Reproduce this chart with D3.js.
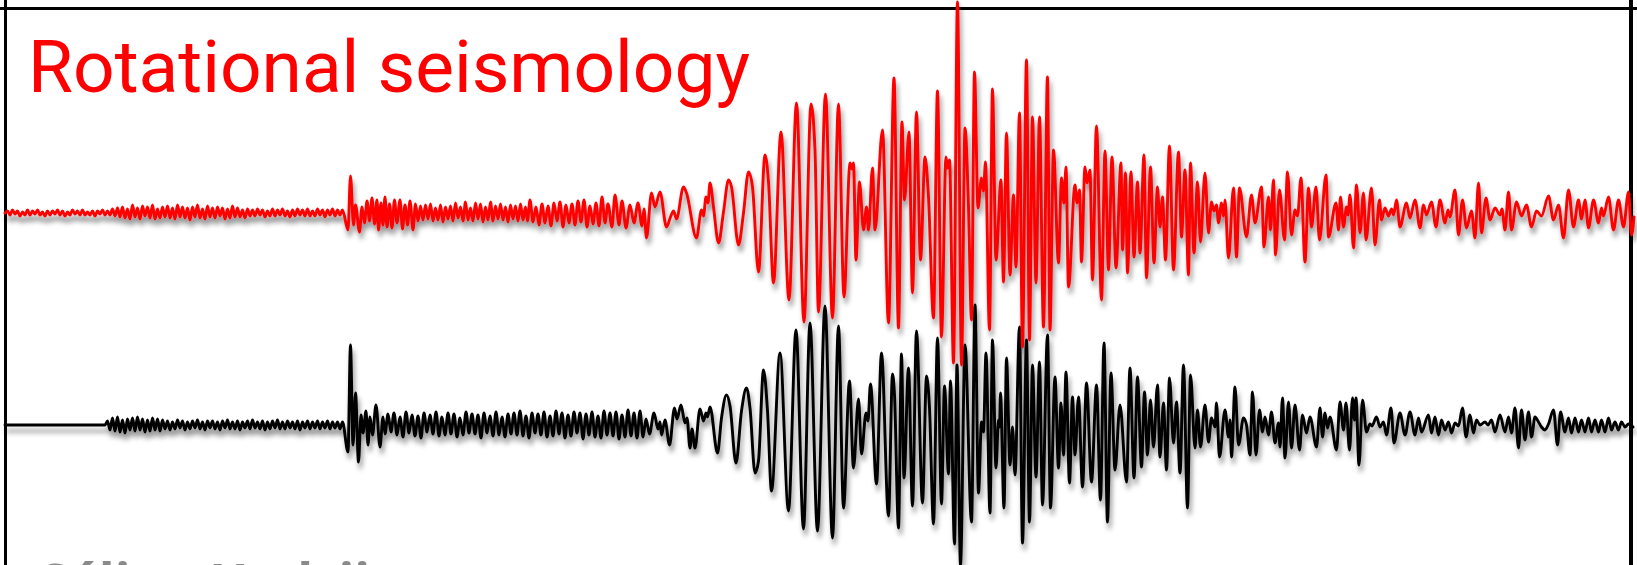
<!DOCTYPE html>
<html><head><meta charset="utf-8">
<script src="https://cdn.jsdelivr.net/npm/d3@7"></script>
<style>html,body{margin:0;padding:0;background:#fff;overflow:hidden}</style>
</head><body>
<svg id="chart" width="1637" height="565"></svg>
<script>
const titleText = "Rotational seismology";
const footerText = "Céline Hadziioannou";

// Rotation-rate record (red), picked extrema as [time s, amplitude]
const rotationTrace = [
[0,0],[5,2],[10,-2],[15,3],[20,-1],[25,2],[30,-3],[35,1],[40,-2],[45,3],[50,-2],[55,2],[60,-1],[65,3],[70,-2],[75,1],[80,-3],[85,2],[90,-2],[95,2],[100,-1],[105,3],[110,-2],[115,2],[120,-3],[125,1],[130,-2],[135,3],[140,-1],[145,2],[150,-2],[155,3],[160,-2],[165,1],[170,-2],[175,2],[180,-3],[185,2],[190,-1],[195,3],[200,-2],[205,2],[210,-2],
[215,4],[220,-3],[225,5],[230,-4],[235,6],[240,-5],[245,4],[250,-6],[255,8],[260,-4],[265,5],[270,-6],[275,7],[280,-3],[285,6],[290,-5],[295,8],[300,-6],[305,4],[310,-5],[315,6],[320,-4],[325,7],[330,-5],[335,5],[340,-6],[345,8],[350,-4],[355,6],[360,-5],[365,5],[370,-7],[375,6],[380,-4],[385,8],[390,-5],[395,4],[400,-6],[405,7],[410,-4],[415,5],[420,-5],[425,6],[430,-3],[435,5],[440,-6],[445,4],[450,-5],[455,7],[460,-4],[465,5],[470,-4],[475,3],[480,-5],[485,4],[490,-3],
[495,3],[500,-3],[505,4],[510,-2],[515,3],[520,-4],[525,2],[530,-3],[535,4],[540,-3],[545,3],[550,-2],[555,4],[560,-3],[565,2],[570,-4],[575,3],[580,-3],[585,4],[590,-2],[595,3],[600,-3],[605,4],[610,-3],[615,2],[620,-3],[625,4],[630,-2],[635,3],[640,-4],[645,3],[650,-2],[655,4],[660,-3],[665,3],[670,-2],[675,3],
[686,-17],[691,37],[697,-12],[701,8],[709,-19],
[714,6],[719,-10],[724,12],[729,-8],[734,15],[739,-11],[744,13],[747,-17],[752,10],[756,-12],[760,16],[764,-14],[769,9],[774,-15],[779,13],[784,-10],[790,13],[795,-16],[800,8],[805,-12],[810,12],[816,-17],[821,9],
[826,-8],[831,7],[836,-7],[841,8],[846,-6],[851,9],[856,-8],[861,5],[866,-7],[871,8],[876,-9],[881,6],[886,-6],[891,7],[896,-8],[901,10],[906,-5],[911,6],[916,-8],[921,11],[926,-7],[931,5],[936,-8],[941,10],[946,-6],[951,9],[956,-9],[961,6],[966,-7],[971,11],[976,-8],[981,7],[986,-6],[991,9],[996,-7],[1001,6],[1006,-9],[1011,8],[1016,-6],[1021,7],[1026,-8],[1031,9],[1036,-7],[1041,6],[1045,-8],
[1050,13],[1056,-9],[1062,6],[1068,-12],[1074,9],[1080,-10],[1086,7],[1092,-13],[1098,10],[1104,-8],[1110,11],[1116,-14],[1122,8],[1128,-10],[1134,9],[1140,-12],[1146,12],[1152,-9],[1158,13],[1164,-14],[1170,7],[1176,-11],[1182,10],[1188,-13],[1194,16],[1200,-10],[1206,9],[1214,-14],[1220,18],[1228,-12],[1234,12],[1242,-15],[1250,8],[1258,-10],[1266,10],[1274,-13],[1278,4],
[1283,-25],[1293,20],[1300,6],[1310,21],[1323,-14],[1331,-4],[1337,2],[1343,-6],[1357,26],[1363,20],[1383,-25],
[1393,3],[1397,-3],[1402,16],[1406,10],[1410,30],[1417,6],[1427,-30],[1437,1],[1447,33],[1453,26],[1467,-32],[1477,0],[1487,41],[1495,26],[1507,-59],[1520,58],[1527,31],[1537,-70],[1552,81],[1568,-87],[1583,110],[1598,-109],[1612,109],[1620,63],[1627,-99],[1641,119],[1655,-105],[1667,109],[1678,-84],[1690,50],[1694,44],[1697,50],[1702,-47],[1709,31],[1717,-17],[1723,6],[1727,-17],[1735,45],[1740,-17],[1755,83],[1767,-110],[1778,135],[1787,-115],[1794,91],[1799,13],[1808,81],[1815,-80],[1823,101],[1831,-47],[1840,56],[1847,16],[1857,-105],[1865,122],[1873,-124],[1882,56],[1885,45],[1889,53],[1897,-150],[1905,211],[1913,-152],[1920,85],[1927,6],[1933,-107],[1939,141],
[1946,5],[1953,35],[1957,22],[1961,51],[1969,-117],[1975,124],[1982,-47],[1992,33],[1997,-69],[2003,80],[2010,-62],[2017,18],[2022,-54],[2029,100],[2035,-134],[2043,153],[2049,-127],[2055,96],[2062,-70],[2069,96],[2077,-114],[2085,136],[2090,-117],[2097,63],[2107,-50],[2113,35],[2118,10],[2122,46],[2127,-74],[2140,28],[2144,10],[2149,23],[2153,-49],[2160,46],[2164,30],[2170,43],[2175,-67],[2183,87],[2193,-87],[2200,62],[2207,-57],[2214,56],[2222,-55],[2232,50],[2235,-37],[2241,40],[2245,-60],[2252,41],[2258,-44],[2265,31],[2270,-40],[2278,58],[2283,-65],[2291,46],[2298,-50],[2305,26],[2310,-14],[2315,16],[2321,-47],[2329,67],[2337,-57],[2347,61],[2353,-24],[2360,43],[2367,-62],[2371,50],[2378,-40],[2385,31],[2391,-29],[2400,40],[2407,-20],[2413,11],[2418,2],[2423,8],[2427,-10],[2433,10],[2437,-3],[2440,13],[2447,-45],[2457,25],[2463,-44],[2469,25],
[2483,-24],[2493,18],[2500,-10],[2513,26],[2518,-34],[2527,16],[2531,-17],[2537,33],[2541,-42],[2549,23],[2559,-27],[2565,41],[2573,-22],[2580,3],[2585,-3],[2592,35],[2600,-49],[2607,25],[2613,-14],[2622,26],[2629,-27],[2642,38],[2647,-24],[2662,10],[2667,-17],[2671,16],[2677,-14],[2683,6],[2686,-2],[2690,18],[2697,-35],[2703,28],[2710,-20],[2717,20],[2722,-27],[2733,25],[2740,-32],[2749,13],[2753,-7],[2760,5],[2767,-3],[2773,4],[2777,-2],[2783,13],[2790,-14],[2803,10],[2810,-5],[2820,13],[2830,-15],[2837,8],[2843,-2],[2853,11],[2862,-14],[2870,13],[2880,-10],[2886,3],[2890,-4],[2900,23],[2907,-22],[2915,13],[2923,-15],[2933,2],[2940,-25],[2947,30],[2953,-20],[2962,15],[2970,-7],[2980,5],[2990,-2],[2994,4],[3000,-17],[3007,21],[3013,-17],[3023,11],[3033,-3],[3043,8],[3053,-14],[3063,2],[3073,-3],[3087,17],[3097,-7],[3107,8],[3117,-25],[3127,23],[3137,-14],[3147,13],[3153,-6],[3160,13],[3167,-15],[3177,13],[3187,-10],[3193,5],[3197,-3],[3207,16],[3217,-17],[3227,13],[3237,-14],[3247,21],[3253,-22],[3258,-4]
];

// Translational velocity record (black), picked extrema as [time s, amplitude]
const velocityTrace = [
[0,0],[200,0],
[205,4],[210,-5],[215,7],[220,-6],[225,8],[230,-7],[235,5],[240,-8],[245,6],[250,-5],[255,7],[260,-6],[265,8],[270,-5],[275,6],[280,-7],[285,5],[290,-6],[295,7],[300,-5],[305,6],[310,-6],[315,5],
[320,-4],[325,4],[330,-5],[335,3],[340,-4],[345,5],[350,-3],[355,4],[360,-5],[365,3],[370,-4],[375,4],[380,-3],[385,5],[390,-4],[395,3],[400,-5],[405,4],[410,-3],[415,4],[420,-4],[425,3],[430,-5],[435,4],[440,-3],[445,5],[450,-4],[455,3],[460,-4],[465,4],[470,-5],[475,3],[480,-3],[485,4],[490,-4],[495,5],[500,-3],[505,3],[510,-4],[515,4],[520,-5],[525,3],[530,-4],[535,4],[540,-3],[545,5],[550,-4],[555,3],[560,-4],[565,4],[570,-3],[575,3],[580,-4],[585,4],[590,-5],[595,3],[600,-3],[605,4],[610,-4],[615,3],[620,-3],[625,4],[630,-4],[635,3],[640,-3],[645,4],[650,-4],[655,3],[660,-3],[665,3],[670,-4],[675,3],
[686,-27],[691,80],[696,-20],[701,32],[707,-37],[712,10],[716,-8],[722,14],[726,-20],[730,8],[735,-10],[742,20],[750,-22],[756,8],
[760,-9],[766,11],[772,-7],[778,12],[784,-10],[790,8],[796,-12],[802,13],[808,-8],[814,10],[820,-11],[826,9],[832,-13],[838,12],[844,-7],[850,10],[856,-9],[862,13],[868,-11],[874,8],[880,-10],[886,12],[892,-9],[898,11],[904,-12],[910,7],[916,-10],[922,13],[928,-8],[934,11],[940,-9],[946,10],[952,-13],[958,12],[964,-8],[970,9],[976,-11],[982,13],[988,-10],[994,8],[1000,-12],[1006,11],[1012,-9],[1018,12],[1024,-10],[1030,14],[1036,-11],[1042,9],[1048,-13],[1054,12],[1060,-8],[1066,11],[1072,-10],[1078,13],[1084,-12],[1090,9],[1096,-11],[1102,14],[1108,-9],[1114,12],[1120,-13],[1126,10],[1132,-11],[1138,13],[1144,-8],[1150,12],[1156,-14],[1162,11],[1168,-10],[1174,13],[1180,-12],[1186,9],[1192,-13],[1198,14],[1204,-10],[1210,12],[1216,-11],[1222,13],[1228,-14],[1234,10],[1240,-12],[1246,15],[1252,-11],[1258,12],[1264,-13],[1270,14],[1276,-12],
[1282,6],[1289,-9],[1298,12],[1306,-4],[1310,3],[1313,-10],[1320,5],[1329,-20],[1339,17],[1344,6],
[1352,20],[1360,2],[1364,7],[1370,-23],[1374,-4],[1380,-23],[1390,16],[1397,4],[1402,12],[1405,8],[1410,18],[1425,-28],[1433,7],[1443,30],[1450,19],[1462,-38],[1473,14],[1483,37],[1490,17],[1500,-48],[1507,-36],[1517,55],[1525,14],[1533,-66],[1550,72],[1567,-86],[1582,95],[1597,-104],[1610,102],[1625,-106],[1640,119],[1655,-113],[1667,99],[1677,-83],[1689,44],[1697,-43],[1707,26],[1713,-29],[1722,12],[1726,4],[1731,41],[1743,-59],[1753,72],[1767,-91],[1775,51],[1779,30],[1787,-103],[1793,71],[1798,-53],[1807,57],[1815,-81],[1823,94],[1835,-78],[1843,49],[1849,17],[1857,-99],[1865,87],[1873,-79],[1879,39],[1887,-49],[1891,44],[1899,-119],[1904,60],[1911,-140],[1920,80],[1933,-97],[1940,120],[1947,-68],[1953,3],[1957,-7],[1962,72],[1970,-88],[1975,85],[1982,-43],[1987,5],[1989,-2],[1991,32],[1998,-83],[2003,67],[2010,-40],[2015,-2],[2020,-50],[2029,98],[2035,-118],[2043,85],[2049,-97],[2055,60],[2062,-52],[2069,63],[2075,-80],[2085,90],[2091,-83],[2100,48],[2107,-43],[2112,22],[2117,-30],[2122,53],[2129,-58],[2135,28],[2140,-30],[2147,28],[2155,-62],[2163,42],[2173,-57],[2183,40],[2191,-75],[2198,82],[2205,-97],[2212,52],[2220,-45],[2230,20],[2243,-57],[2250,57],[2258,-53],[2265,48],[2273,-42],[2279,33],[2285,-30],[2291,25],[2297,-22],[2305,40],[2310,-32],[2317,22],[2323,-45],[2329,47],[2337,-18],[2343,23],[2350,-48],[2357,60],[2365,-83],[2371,50],[2380,-23],[2385,15],[2391,-22],[2400,20],[2407,-17],[2413,7],[2420,-2],[2423,22],[2429,-32],[2440,15],[2447,-12],[2450,5],[2453,-32],[2460,38],[2467,-20],[2477,7],[2483,0],
[2490,-30],[2495,33],[2502,-30],[2509,15],[2515,-7],[2520,8],[2527,-10],[2533,13],[2540,-18],[2547,2],[2550,-22],[2555,27],[2560,-33],[2567,23],[2573,-23],[2580,20],[2589,-25],[2595,10],[2603,-8],[2610,8],[2623,-22],[2630,17],[2635,-12],[2640,12],[2645,-3],[2650,8],[2663,-25],[2670,23],[2677,-5],[2682,22],[2689,-25],[2695,27],[2699,5],[2702,27],[2708,-40],[2715,25],[2723,-7],[2730,1],[2734,-1],[2743,8],[2750,-2],[2757,3],[2763,-10],[2772,17],[2778,-18],[2790,12],[2800,-10],[2810,13],[2820,-10],[2827,7],[2833,-7],[2847,10],[2853,-8],[2860,8],[2867,-10],[2873,5],[2880,-5],[2887,3],[2893,-8],[2900,2],[2907,-1],[2915,17],[2922,-12],[2930,10],[2937,-8],[2943,5],[2950,0],[2960,3],[2966,0],[2973,5],[2980,-7],[2990,10],[3000,-7],[3007,8],[3013,-8],[3020,17],[3027,-23],[3033,15],[3040,-15],[3047,13],[3053,-12],[3060,8],[3067,3],[3073,-2],[3080,-5],[3087,1],[3097,15],[3105,-20],[3111,13],[3120,-7],[3127,7],[3133,-8],[3140,7],[3147,-7],[3153,5],[3160,-7],[3167,7],[3173,-7],[3180,5],[3187,-7],[3193,5],[3200,-7],[3207,7],[3213,-5],[3220,3],[3227,-5],[3233,3],[3240,-2],[3247,1],[3256,-2]
];

const timeDomain = [0, 3260];
const rotationDomain = [-213, 213];
const velocityDomain = [-140, 140];

const W = 1637, H = 565;
const svg = d3.select("#chart");
const defs = svg.append("defs");
const shadow = defs.append("filter").attr("id", "trace-shadow")
  .attr("filterUnits", "userSpaceOnUse")
  .attr("x", -20).attr("y", -20).attr("width", W + 40).attr("height", H + 60);
shadow.append("feDropShadow")
  .attr("dx", 2).attr("dy", 6).attr("stdDeviation", 2.6)
  .attr("flood-color", "#000").attr("flood-opacity", 0.42);

const x = d3.scaleLinear().domain(timeDomain).range([5, 1635]);
const yRot = d3.scaleLinear().domain(rotationDomain).range([426, 0]);
const yVel = d3.scaleLinear().domain(velocityDomain).range([565, 285]);

// frame
const frame = svg.append("g").attr("stroke", "#000").attr("fill", "none");
frame.append("line").attr("x1", 0).attr("x2", W).attr("y1", 8.5).attr("y2", 8.5).attr("stroke-width", 3);
frame.append("line").attr("x1", 5.5).attr("x2", 5.5).attr("y1", 0).attr("y2", H).attr("stroke-width", 3);
frame.append("line").attr("x1", 1631).attr("x2", 1631).attr("y1", 0).attr("y2", H).attr("stroke-width", 4);

// title
svg.append("text")
  .attr("x", 28).attr("y", 92)
  .attr("font-family", "Roboto, 'Noto Sans', sans-serif")
  .attr("font-size", 72)
  .attr("fill", "#ff0000")
  .attr("textLength", 722)
  .attr("lengthAdjust", "spacingAndGlyphs")
  .text(titleText);

// footer (runs off the bottom edge)
svg.append("text")
  .attr("x", 35).attr("y", 601)
  .attr("font-family", "'Open Sans', 'Noto Sans', sans-serif")
  .attr("font-weight", 700)
  .attr("font-size", 52)
  .attr("fill", "#8a8a8a")
  .text(footerText);

const lineRot = d3.line().x(d => x(d[0])).y(d => yRot(d[1])).curve(d3.curveMonotoneX);
const lineVel = d3.line().x(d => x(d[0])).y(d => yVel(d[1])).curve(d3.curveMonotoneX);

svg.append("path").datum(velocityTrace)
  .attr("d", lineVel)
  .attr("fill", "none").attr("stroke", "#000").attr("stroke-width", 2.9)
  .attr("stroke-linejoin", "round").attr("stroke-linecap", "round")
  .attr("filter", "url(#trace-shadow)");

svg.append("path").datum(rotationTrace)
  .attr("d", lineRot)
  .attr("fill", "none").attr("stroke", "#ff0000").attr("stroke-width", 2.9)
  .attr("stroke-linejoin", "round").attr("stroke-linecap", "round")
  .attr("filter", "url(#trace-shadow)");
</script>
</body></html>
